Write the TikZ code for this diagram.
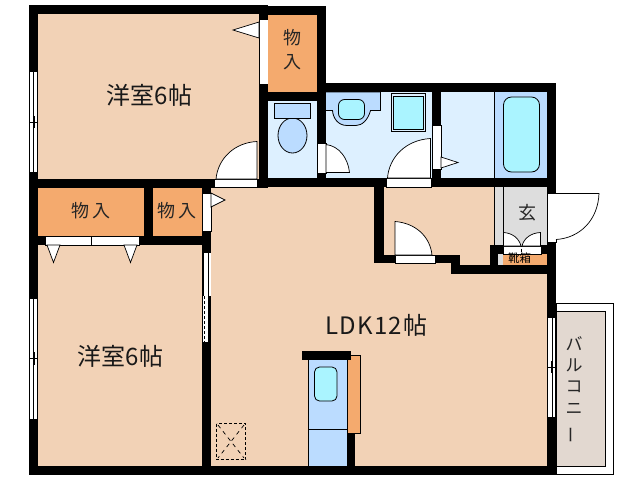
\documentclass[tikz,border=0pt]{standalone}
\usepackage{fontspec}
\setmainfont{Noto Sans CJK JP}
\definecolor{peach}{HTML}{F2D2B6}
\definecolor{closet}{HTML}{F4AA6E}
\definecolor{floorblue}{HTML}{DDF0FF}
\definecolor{fixture}{HTML}{BBDCFF}
\definecolor{basin}{HTML}{AAF4FF}
\definecolor{entry}{HTML}{DDDDDD}
\definecolor{balc}{HTML}{E2D8D0}
\tikzset{
  wall/.style={fill=black,draw=none},
  zone/.style={draw=none},
  opening/.style={fill=white,draw=black,line width=.7pt},
  thin line/.style={draw=black,line width=.7pt},
  fix/.style={fill=fixture,draw=black,line width=.8pt},
  bowl/.style={fill=basin,draw=black,line width=.8pt},
  room/.style={font=\fontsize{24}{24}\selectfont,inner sep=0pt,text=black!90},
  store/.style={font=\fontsize{18}{18}\selectfont,inner sep=0pt,text=black!85},
  vert/.style={font=\fontsize{17}{17}\selectfont,inner sep=0pt,text=black!85},
}
\newcommand{\Wall}[4]{\fill[wall] (#1,#2) rectangle (#3,#4);}
\newcommand{\Zone}[5]{\fill[zone,fill=#5] (#1,#2) rectangle (#3,#4);}
\begin{document}
\begin{tikzpicture}[x=1pt,y=-1pt]
\useasboundingbox (0,0) rectangle (638,480);
\fill[white] (0,0) rectangle (638,480);
% floors
\Zone{34}{10}{262}{183}{peach}
\Zone{34}{240}{206}{470}{peach}
\Zone{206}{183}{550}{470}{peach}
\Zone{38}{188}{144}{236}{closet}
\Zone{153}{188}{202}{236}{closet}
\Zone{268}{15}{317}{92}{closet}
\Zone{268}{101}{317}{178}{floorblue}
\Zone{326}{92}{432}{178}{floorblue}
\Zone{441}{92}{495}{178}{floorblue}
\Zone{495}{92}{547}{178}{fixture}
\Zone{495}{187}{547}{246}{entry}
\Zone{497}{246}{503}{265}{entry}
\Zone{503}{254}{547}{265}{closet}
% balcony
\draw[thin line,fill=white] (556,303.5) rectangle (613,474);
\draw[thin line,fill=balc] (556,311.5) rectangle (605,466.5);
% kitchen
\draw[fix] (308.5,358) rectangle (347,467);
\draw[thin line] (308.5,429.5) -- (347,429.5);
\draw[bowl] (314.5,367) [rounded corners=5pt] rectangle (337,401);
\draw[thin line,fill=closet] (347,355.5) rectangle (360,433);
\Wall{302}{351}{351}{360}
\Wall{347}{433}{355}{467}
% walls
\Wall{29}{5}{268}{14}
\Wall{268}{6}{326}{15}
\Wall{29}{5}{38}{475}
\Wall{29}{466}{556}{475}
\Wall{547}{83}{556}{475}
\Wall{317}{83}{556}{92}
\Wall{317}{6}{326}{187}
\Wall{259}{5}{268}{187}
\Wall{268}{92}{326}{101}
\Wall{29}{179}{268}{187.5}
\Wall{259}{178}{547}{187}
\Wall{202}{179}{211}{475}
\Wall{144}{187}{153}{245}
\Wall{29}{236}{211}{245}
\Wall{432}{83}{441}{187}
\Wall{374}{187}{384}{263}
\Wall{374}{255}{460}{263}
\Wall{451}{255}{460}{274}
\Wall{451}{265}{556}{274}
\Wall{490}{245}{498}{274}
\Wall{490}{245}{503}{254}
\Wall{541}{245}{556}{254}
% left and right windows
\draw[opening] (29.5,71) rectangle (37.5,172);
\draw[thin line] (33.5,71) -- (33.5,172) (29.5,122) -- (37.5,122) (34.5,116) -- (34.5,128);
\draw[opening] (29.5,298.5) rectangle (37.5,419);
\draw[thin line] (33.5,298.5) -- (33.5,419) (29.5,358.5) -- (37.5,358.5) (34.5,352) -- (34.5,365);
\draw[opening] (547.5,317.5) rectangle (555.5,417);
\draw[thin line] (552,317.5) -- (552,417) (547.5,367) -- (555.5,367) (551,361) -- (551,373);
% closet doors
\fill[white] (260,20) rectangle (268,84);
\draw[opening] (259,22) -- (233,30) -- (259,38) -- cycle;
\draw[opening] (202.5,193) rectangle (211,231);
\draw[opening] (211,193) -- (225,200) -- (211,207) -- cycle;
\draw[opening] (45,236.5) rectangle (139,245);
\draw[thin line] (91.5,236.5) -- (91.5,245);
\draw[opening] (47,245) -- (53.5,262.5) -- (60,245) -- cycle;
\draw[opening] (124,245) -- (130.5,262.5) -- (137,245) -- cycle;
% sliding door to LDK
\fill[white] (202.5,252) rectangle (211,296);
\fill[white] (203,296) rectangle (208,342);
\draw[thin line] (202.5,252.5) -- (211,252.5) (203,252) -- (203,296) (208,252) -- (208,342);
\draw[thin line,dashed,dash pattern=on 3pt off 2pt] (204.5,296) -- (204.5,342);
\draw[thin line] (203,342) -- (208,342);
% room door
\draw[opening] (214,179.5) rectangle (257,187);
\draw[opening] (257,179) -- (257,141.5) .. controls (235,142.5) and (218,158) .. (216,179) -- cycle;
% toilet
\draw[fix] (292.5,135.5) ellipse[x radius=14.5,y radius=17.5];
\draw[fix] (274.5,103.5) rectangle (310.5,118.5);
% toilet door
\draw[opening] (317.5,143.5) rectangle (326,173);
\draw[opening] (326,172.5) -- (326,144.5) .. controls (339,146) and (348,158) .. (349.5,172.5) -- cycle;
% wash basin
\draw[fix] (326,92) -- (380.5,92) -- (380.5,110.5) -- (370.5,110.5) .. controls (368,120) and (362,125.5) .. (356,125.5) -- (347,125.5) .. controls (338,125.5) and (333,118) .. (332.5,110.5) -- (326,110.5);
\draw[bowl] (338.5,99.5) [rounded corners=6pt] rectangle (364.5,119.5);
% washing machine
\draw[fix,fill=floorblue] (391.5,93.5) rectangle (425.5,131.5);
\draw[bowl] (393.5,96) rectangle (423.5,129);
% wash door
\draw[opening] (386,178.5) rectangle (431,187);
\draw[opening] (430.5,178) -- (430.5,138.5) .. controls (405,140) and (389,158) .. (387.5,178) -- cycle;
% bath door
\draw[opening] (432.5,125) rectangle (441,169);
\draw[opening] (441,157) -- (458,162.5) -- (441,168) -- cycle;
% bath
\draw[thin line] (494.5,92) -- (494.5,178);
\draw[bowl] (503.5,97) [rounded corners=8pt] rectangle (539.5,172);
% hall door
\draw[opening] (395,255.5) rectangle (435,263);
\draw[opening] (395,255) -- (395,221.5) .. controls (415,223) and (430,236) .. (432,255) -- cycle;
% entrance
\draw[thin line] (494.5,187) -- (494.5,245) (503.5,187) -- (503.5,232);
\draw[opening] (547.5,193) rectangle (556,242);
\draw[opening] (556,193.5) -- (599,193.5) .. controls (598,220) and (580,238) .. (556,239.5);
\draw[opening] (503.5,254) rectangle (541,246);
\draw[thin line] (521.5,248.5) -- (521.5,252);
\draw[opening] (503.5,246) -- (503.5,232.5) .. controls (512,233) and (519,238) .. (521,246) -- cycle;
\draw[opening] (540.5,246) -- (540.5,232.5) .. controls (531,233) and (524,238) .. (522,246) -- cycle;
% hatch
\draw[thin line,dashed,dash pattern=on 3pt off 2pt] (216.5,423.5) rectangle (245.5,459.5);
\draw[thin line,dash pattern=on 4pt off 4pt] (218,425) -- (244,458) (244,425) -- (218,458);
% labels
\node[room] (r1) at (149.5,95) {洋室6帖};
\node[room] (r2) at (120.5,356.5) {洋室6帖};
\node[room] (ldk) at (376.5,325) {\addfontfeature{LetterSpace=5}LDK12帖};
\node[store] (s1a) at (292.5,38) {物};
\node[store] (s1b) at (292.5,62) {入};
\node[store] (s2a) at (80.5,211) {物};
\node[store] (s2b) at (101,211) {入};
\node[store] (s3a) at (166,211) {物};
\node[store] (s3b) at (187,211) {入};
\node[store] (ent) at (527.5,212.5) {玄};
\node[inner sep=0pt,font=\fontsize{11.5}{11.5}\selectfont] (shoe) at (519.5,258.5) {靴箱};
\node[vert] (b1) at (574,343.5) {バ};
\node[vert] (b2) at (574,365) {ル};
\node[vert] (b3) at (574,387) {コ};
\node[vert] (b4) at (574,409) {ニ};
\node[vert,rotate=90] (b5) at (574,435) {ー};
\end{tikzpicture}
\end{document}
